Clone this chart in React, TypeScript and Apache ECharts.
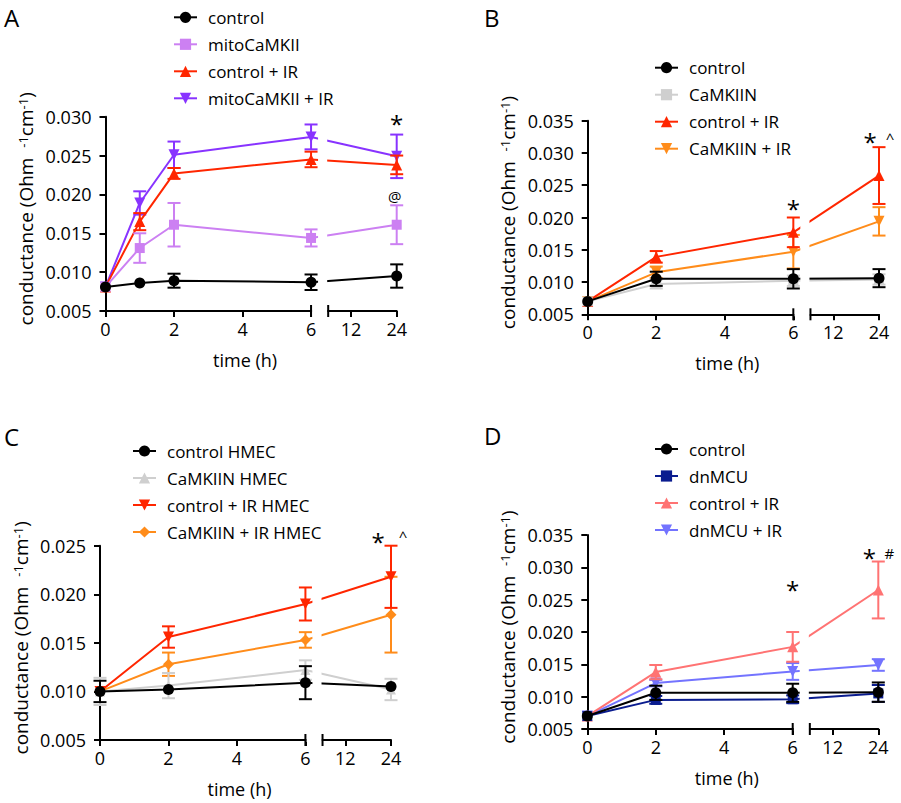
import React, { useEffect, useRef } from 'react';
import * as echarts from 'echarts';

const FONT = '"Open Sans", "Noto Sans", sans-serif';

// ---------- shared axis ticks (hours) ----------
const xTickHours = [0, 2, 4, 6, 12, 24];

// ---------- Panel A ----------
const hoursA = [0, 1, 2, 6, 24];
const namesA = ['control', 'mitoCaMKII', 'control + IR', 'mitoCaMKII + IR'];
const meanA_control = [0.0081, 0.0086, 0.0089, 0.0087, 0.0095];
const semA_control = [0, 0, 0.0009, 0.001, 0.0015];
const meanA_mito = [0.0081, 0.0131, 0.0161, 0.0144, 0.0161];
const semA_mito = [0, 0.0019, 0.0028, 0.0011, 0.0025];
const meanA_ctrlIR = [0.0081, 0.0165, 0.0227, 0.0245, 0.0238];
const semA_ctrlIR = [0, 0.0011, 0.0007, 0.001, 0.0012];
const meanA_mitoIR = [0.0081, 0.0189, 0.0251, 0.0274, 0.0249];
const semA_mitoIR = [0, 0.0015, 0.0017, 0.0016, 0.0028];
const annA_hours = [24, 24];
const annA_values = [0.0298, 0.0198];
const annA_texts = ['*', '@'];

// ---------- Panel B ----------
const hoursB = [0, 2, 6, 24];
const namesB = ['control', 'CaMKIIN', 'control + IR', 'CaMKIIN + IR'];
const meanB_control = [0.007, 0.0105, 0.0105, 0.0106];
const semB_control = [0, 0.0011, 0.0015, 0.0014];
const meanB_camkiin = [0.007, 0.0097, 0.0102, 0.0104];
const semB_camkiin = [0, 0.0007, 0.0008, 0.0008];
const meanB_ctrlIR = [0.007, 0.0139, 0.0177, 0.0265];
const semB_ctrlIR = [0, 0.0009, 0.0023, 0.0044];
const meanB_camkiinIR = [0.007, 0.0115, 0.0147, 0.0194];
const semB_camkiinIR = [0, 0.0009, 0.0026, 0.0022];
const annB_hours = [6, 24, 24];
const annB_values = [0.0222, 0.0325, 0.0328];
const annB_texts = ['*', '*', '^'];

// ---------- Panel C ----------
const hoursC = [0, 2, 6, 24];
const namesC = ['control HMEC', 'CaMKIIN HMEC', 'control + IR HMEC', 'CaMKIIN + IR HMEC'];
const meanC_control = [0.01, 0.0102, 0.0109, 0.0105];
const semC_control = [0.0011, 0, 0.0017, 0];
const meanC_camkiin = [0.01, 0.0106, 0.0122, 0.0102];
const semC_camkiin = [0.0014, 0.0013, 0.001, 0.0011];
const meanC_ctrlIR = [0.01, 0.0156, 0.019, 0.0218];
const semC_ctrlIR = [0, 0.0011, 0.0017, 0.0032];
const meanC_camkiinIR = [0.01, 0.0128, 0.0153, 0.0179];
const semC_camkiinIR = [0, 0.0012, 0.0008, 0.0039];
const annC_hours = [24, 24];
const annC_values = [0.0259, 0.0263];
const annC_texts = ['*', '^'];

// ---------- Panel D ----------
const hoursD = [0, 2, 6, 24];
const namesD = ['control', 'dnMCU', 'control + IR', 'dnMCU + IR'];
const meanD_control = [0.007, 0.0106, 0.0106, 0.0107];
const semD_control = [0, 0.0011, 0.0014, 0.0015];
const meanD_dnmcu = [0.007, 0.0095, 0.0096, 0.0105];
const semD_dnmcu = [0, 0.0006, 0.0006, 0.0013];
const meanD_ctrlIR = [0.007, 0.0138, 0.0177, 0.0265];
const semD_ctrlIR = [0, 0.0011, 0.0023, 0.0044];
const meanD_dnmcuIR = [0.007, 0.0121, 0.0139, 0.0149];
const semD_dnmcuIR = [0, 0.0005, 0.0013, 0.0009];
const annD_hours = [6, 24, 24];
const annD_values = [0.0273, 0.0323, 0.0323];
const annD_texts = ['*', '*', '#'];

// broken axis: 0..6 h linear, then 6..24 h compressed after a gap
const toAxis = (h: number) => (h <= 6 ? h : 6.5 + (h - 6) / 9);
const tickPos = xTickHours.map(toAxis);

const annStyle: Record<string, { size: number; dy: number }> = {
  '*': { size: 24, dy: 5 },
  '@': { size: 15, dy: 0 },
  '^': { size: 15, dy: 3 },
  '#': { size: 15, dy: 1 },
};

type Panel = {
  key: string;
  hours: number[];
  names: string[];
  means: number[][];
  sems: number[][];
  colors: string[];
  symbols: string[];
  rotates: number[];
  sizes: number[];
  yMax: number;
  grid: { left: number; top: number; width: number; height: number };
  legend: { left: number; top: number };
  ann: { hours: number[]; values: number[]; texts: string[]; dx: number[] };
};

const panels: Panel[] = [
  {
    key: 'A',
    hours: hoursA,
    names: namesA,
    means: [meanA_control, meanA_mito, meanA_ctrlIR, meanA_mitoIR],
    sems: [semA_control, semA_mito, semA_ctrlIR, semA_mitoIR],
    colors: ['#000000', '#CC80F2', '#FF2600', '#8833FF'],
    symbols: ['circle', 'rect', 'triangle', 'triangle'],
    rotates: [0, 0, 0, 180],
    sizes: [11, 10, 11, 11],
    yMax: 0.03,
    grid: { left: 105.5, top: 116.7, width: 291.2, height: 194.3 },
    legend: { left: 173, top: 7.3 },
    ann: { hours: annA_hours, values: annA_values, texts: annA_texts, dx: [0, -2] },
  },
  {
    key: 'B',
    hours: hoursB,
    names: namesB,
    means: [meanB_control, meanB_camkiin, meanB_ctrlIR, meanB_camkiinIR],
    sems: [semB_control, semB_camkiin, semB_ctrlIR, semB_camkiinIR],
    colors: ['#000000', '#CFCFCF', '#FF2600', '#FF8C1A'],
    symbols: ['circle', 'rect', 'triangle', 'triangle'],
    rotates: [0, 0, 0, 180],
    sizes: [11, 10, 11, 11],
    yMax: 0.035,
    grid: { left: 587.7, top: 120.7, width: 291.3, height: 193.6 },
    legend: { left: 654, top: 57.7 },
    ann: { hours: annB_hours, values: annB_values, texts: annB_texts, dx: [0, -9, 11] },
  },
  {
    key: 'C',
    hours: hoursC,
    names: namesC,
    means: [meanC_control, meanC_camkiin, meanC_ctrlIR, meanC_camkiinIR],
    sems: [semC_control, semC_camkiin, semC_ctrlIR, semC_camkiinIR],
    colors: ['#000000', '#CFCFCF', '#FF2600', '#FF8C1A'],
    symbols: ['circle', 'triangle', 'triangle', 'diamond'],
    rotates: [0, 0, 180, 0],
    sizes: [11, 10, 11, 11],
    yMax: 0.025,
    grid: { left: 100, top: 545.7, width: 291, height: 194.3 },
    legend: { left: 132, top: 441 },
    ann: { hours: annC_hours, values: annC_values, texts: annC_texts, dx: [-13, 12] },
  },
  {
    key: 'D',
    hours: hoursD,
    names: namesD,
    means: [meanD_control, meanD_dnmcu, meanD_ctrlIR, meanD_dnmcuIR],
    sems: [semD_control, semD_dnmcu, semD_ctrlIR, semD_dnmcuIR],
    colors: ['#000000', '#0A1C8F', '#FF7373', '#7373FF'],
    symbols: ['circle', 'rect', 'triangle', 'triangle'],
    rotates: [0, 0, 0, 180],
    sizes: [11, 10, 11, 11],
    yMax: 0.035,
    grid: { left: 587.3, top: 535, width: 291, height: 194 },
    legend: { left: 654, top: 439 },
    ann: { hours: annD_hours, values: annD_values, texts: annD_texts, dx: [0, -9, 11] },
  },
];

const letters = [
  { text: 'A', left: 4, top: 5 },
  { text: 'B', left: 484, top: 5 },
  { text: 'C', left: 4, top: 424 },
  { text: 'D', left: 484, top: 423 },
];

function errRender(color: string) {
  return (params: any, api: any) => {
    const x = api.value(0);
    const m = api.value(1);
    const e = api.value(2);
    if (!e) return { type: 'group', children: [] };
    const p1 = api.coord([x, m + e]);
    const p2 = api.coord([x, m - e]);
    const hw = 6.5;
    const style = { stroke: color, lineWidth: 2, fill: 'none' };
    return {
      type: 'group',
      children: [
        { type: 'line', shape: { x1: p1[0], y1: p1[1], x2: p2[0], y2: p2[1] }, style },
        { type: 'line', shape: { x1: p1[0] - hw, y1: p1[1], x2: p1[0] + hw, y2: p1[1] }, style },
        { type: 'line', shape: { x1: p2[0] - hw, y1: p2[1], x2: p2[0] + hw, y2: p2[1] }, style },
      ],
    };
  };
}

const maskRender = (params: any, api: any) => {
  const a = api.coord([api.value(0), api.value(3)]);
  const b = api.coord([api.value(1), api.value(2)]);
  const x6 = a[0];
  const x65 = b[0];
  const top = a[1];
  const axisY = b[1];
  const bar = { stroke: '#000', lineWidth: 2 };
  return {
    type: 'group',
    children: [
      { type: 'rect', shape: { x: x6 + 7, y: top - 2, width: x65 - x6 - 8, height: axisY - top + 5 }, style: { fill: '#fff' } },
      { type: 'rect', shape: { x: x6 + 1, y: axisY - 2, width: x65 - x6 - 2, height: 4 }, style: { fill: '#fff' } },
      { type: 'line', shape: { x1: x6, y1: axisY - 6, x2: x6, y2: axisY + 6 }, style: bar },
      { type: 'line', shape: { x1: x65, y1: axisY - 6, x2: x65, y2: axisY + 6 }, style: bar },
    ],
  };
};

function annRender(texts: string[], dx: number[]) {
  return (params: any, api: any) => {
    const i = params.dataIndex;
    const p = api.coord([api.value(0), api.value(1)]);
    const t = texts[i];
    const st = annStyle[t] || { size: 16, dy: 0 };
    return {
      type: 'text',
      x: p[0] + dx[i],
      y: p[1] + st.dy,
      style: {
        text: t,
        fontSize: st.size,
        fontFamily: FONT,
        fill: '#000',
        align: 'center',
        verticalAlign: 'middle',
      },
    };
  };
}

const tickText = { fontSize: 18, fontFamily: FONT, color: '#000' };

function buildOption() {
  const grid: any[] = [];
  const xAxis: any[] = [];
  const yAxis: any[] = [];
  const legend: any[] = [];
  const series: any[] = [];

  panels.forEach((p, pi) => {
    grid.push({ ...p.grid, containLabel: false });
    xAxis.push({
      type: 'value',
      gridIndex: pi,
      min: 0,
      max: toAxis(24),
      splitLine: { show: false },
      axisLine: { show: true, onZero: false, lineStyle: { color: '#000', width: 2 } },
      axisTick: { show: true, customValues: tickPos, length: 6, lineStyle: { color: '#000', width: 2 } },
      axisLabel: {
        customValues: tickPos,
        formatter: (v: number) => {
          const idx = tickPos.findIndex((t) => Math.abs(t - v) < 1e-6);
          return idx >= 0 ? `{t|${xTickHours[idx]}}` : '';
        },
        ...tickText,
        rich: { t: tickText },
        margin: 9,
      },
      name: 'time (h)',
      nameLocation: 'middle',
      nameGap: 40,
      nameTextStyle: { fontSize: 18, fontFamily: FONT, color: '#000', padding: [0, 12, 0, 0] },
    });
    yAxis.push({
      type: 'value',
      gridIndex: pi,
      min: 0.005,
      max: p.yMax,
      interval: 0.005,
      splitLine: { show: false },
      axisLine: { show: true, onZero: false, lineStyle: { color: '#000', width: 2 } },
      axisTick: { show: true, length: 6, lineStyle: { color: '#000', width: 2 } },
      axisLabel: {
        formatter: (v: number) => `{t|${v.toFixed(3)}}`,
        ...tickText,
        rich: { t: tickText },
        margin: 14,
      },
      name: 'conductance (Ohm  {s|-1}cm{s|-1})',
      nameLocation: 'middle',
      nameGap: 70,
      nameTextStyle: {
        fontSize: 19,
        fontFamily: FONT,
        color: '#000',
        padding: [0, 0, 0, 10],
        rich: { s: { fontSize: 13, fontFamily: FONT, color: '#000', verticalAlign: 'top', lineHeight: 13 } },
      },
    });
    legend.push({
      data: p.names.map((n) => `${p.key}|${n}`),
      formatter: (n: string) => n.split('|')[1],
      orient: 'vertical',
      left: p.legend.left,
      top: p.legend.top,
      padding: 0,
      z: 100,
      itemWidth: 23,
      itemHeight: 14,
      itemGap: 7,
      selectedMode: false,
      textStyle: { fontSize: 17, fontFamily: FONT, color: '#000', lineHeight: 20, padding: [0, 0, 0, 6] },
    });

    p.names.forEach((n, i) => {
      const color = p.colors[i];
      const z = 20 - 2 * i;
      series.push({
        name: `${p.key}|${n}`,
        type: 'line',
        xAxisIndex: pi,
        yAxisIndex: pi,
        data: p.hours.map((h, j) => [toAxis(h), p.means[i][j]]),
        symbol: p.symbols[i],
        symbolSize: p.sizes[i],
        symbolRotate: p.rotates[i],
        itemStyle: { color, opacity: 1 },
        lineStyle: { color, width: 2 },
        z,
        clip: false,
        silent: true,
      });
      series.push({
        name: `${p.key}|${n}|err`,
        type: 'custom',
        xAxisIndex: pi,
        yAxisIndex: pi,
        data: p.hours.map((h, j) => [toAxis(h), p.means[i][j], p.sems[i][j]]),
        encode: { x: 0, y: 1 },
        renderItem: errRender(color),
        z: z - 1,
        clip: false,
        silent: true,
      });
    });

    series.push({
      name: `${p.key}|mask`,
      type: 'custom',
      xAxisIndex: pi,
      yAxisIndex: pi,
      data: [[toAxis(6), 6.5, 0.005, p.yMax]],
      encode: { x: [0, 1], y: [2, 3] },
      renderItem: maskRender,
      z: 50,
      clip: false,
      silent: true,
    });

    series.push({
      name: `${p.key}|ann`,
      type: 'custom',
      xAxisIndex: pi,
      yAxisIndex: pi,
      data: p.ann.hours.map((h, j) => [toAxis(h), p.ann.values[j]]),
      encode: { x: 0, y: 1 },
      renderItem: annRender(p.ann.texts, p.ann.dx),
      z: 60,
      clip: false,
      silent: true,
    });
  });

  return {
    animation: false,
    backgroundColor: '#ffffff',
    textStyle: { fontFamily: FONT },
    grid,
    xAxis,
    yAxis,
    legend,
    series,
    graphic: letters.map((l) => ({
      type: 'text',
      left: l.left,
      top: l.top,
      style: { text: l.text, fontSize: 24, fontFamily: FONT, fill: '#000' },
    })),
  };
}

export default function App() {
  const ref = useRef<HTMLDivElement>(null);
  useEffect(() => {
    document.body.style.margin = '0';
    const chart = echarts.init(ref.current as HTMLDivElement, undefined, { renderer: 'svg' });
    chart.setOption(buildOption() as any);
    return () => chart.dispose();
  }, []);
  return <div ref={ref} style={{ width: 901, height: 803 }} />;
}
